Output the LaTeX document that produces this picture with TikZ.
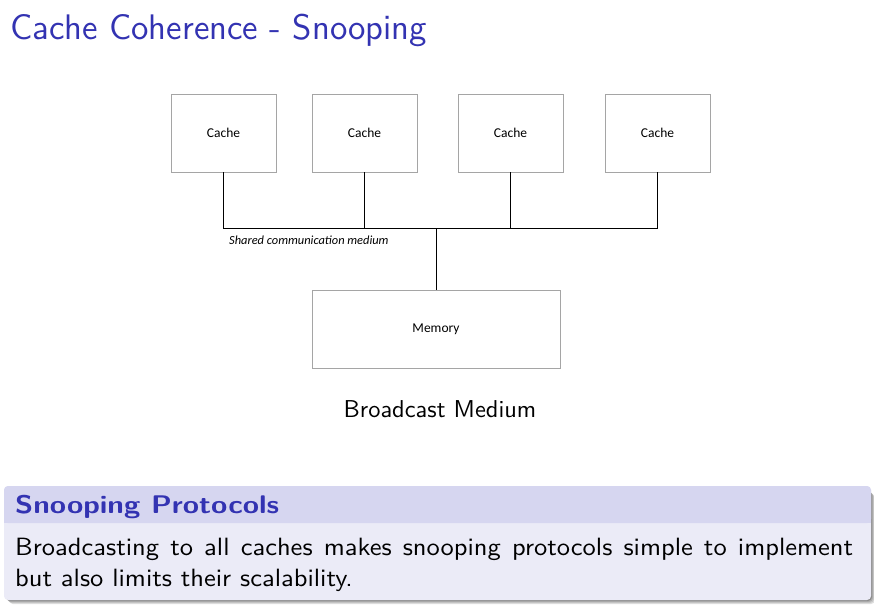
\documentclass[tikz,border=0pt]{standalone}
\usepackage{fontspec}
\setsansfont{lmsans10-regular.otf}[BoldFont=lmsans10-bold.otf]
\newfontfamily\lmtitle{lmsans12-regular.otf}
\newfontfamily\lmhead{lmsans10-bold.otf}[FakeStretch=1.16]
\newfontfamily\lmbody{lmsans10-regular.otf}[FakeStretch=1.06]
\newfontfamily\carlito{Carlito}
\usetikzlibrary{positioning}
\definecolor{structblue}{RGB}{51,51,178}
\definecolor{blocktitle}{RGB}{214,214,240}
\definecolor{blockbody}{RGB}{235,235,247}
\definecolor{boxgray}{RGB}{165,165,165}
\tikzset{
  unit/.style={draw=boxgray,line width=0.9pt,minimum width=105pt,minimum height=78pt,
    font=\carlito\fontsize{13.5}{16}\selectfont,inner sep=0pt},
  wire/.style={line width=1pt,black}
}

\begin{document}
\begin{tikzpicture}[x=1pt,y=-1pt]
  \path[fill=white,use as bounding box] (0,0) rectangle (874,612);

  % frame title
  \node[anchor=base west,inner sep=0pt,text=structblue,
    font=\lmtitle\fontsize{35.5}{40}\selectfont] (title) at (10,40) {Cache Coherence - Snooping};

  % caches and memory
  \node[unit] (c1) at (223.5,133) {Cache};
  \node[unit] (c2) at (364.5,133) {Cache};
  \node[unit] (c3) at (510.5,133) {Cache};
  \node[unit] (c4) at (657.5,133) {Cache};
  \node[unit,minimum width=248pt] (mem) at (436,329) {Memory};

  \coordinate (busl) at (c1.south |- 0,228);
  \coordinate (busr) at (c4.south |- 0,228);
  \coordinate (busm) at (mem.north |- 0,228);

  \draw[wire] (c1.south) -- (busl) -- (busr) -- (c4.south);
  \draw[wire] (c2.south) -- (c2.south |- busl);
  \draw[wire] (c3.south) -- (c3.south |- busl);
  \draw[wire] (busm) -- (mem.north);
  \node[anchor=base west,inner sep=0pt,font=\carlito\itshape\fontsize{12.4}{14}\selectfont]
    (medium) at (229,244) {Shared communication medium};

  \node[anchor=base,inner sep=0pt,font=\sffamily\fontsize{24.4}{28}\selectfont] (caption) at (440,417)
    {Broadcast Medium};

  % block with its shadow
  \foreach \d/\g in {4/12,3/22,2/32,1/45}
    \fill[black!\g,rounded corners=4pt] (5+\d,490+\d) rectangle (871+\d,600+\d);
  \fill[blockbody,rounded corners=4pt] (4,486) rectangle (871,600);
  \fill[blocktitle,rounded corners=4pt] (4,486) rectangle (871,523);
  \fill[blocktitle] (4,510) rectangle (871,523);
  \node[anchor=base west,inner sep=0pt,text=structblue,
    font=\lmhead\fontsize{25.5}{28}\selectfont] (blockhead) at (15,513) {Snooping Protocols};
  \node[anchor=base west,inner sep=0pt,text width=838pt,align=justify,
    font=\lmbody\fontsize{25}{31}\selectfont] (blocktext) at (15,555)
    {Broadcasting to all caches makes snooping protocols simple to implement\linebreak
     but also limits their scalability.};
\end{tikzpicture}
\end{document}
